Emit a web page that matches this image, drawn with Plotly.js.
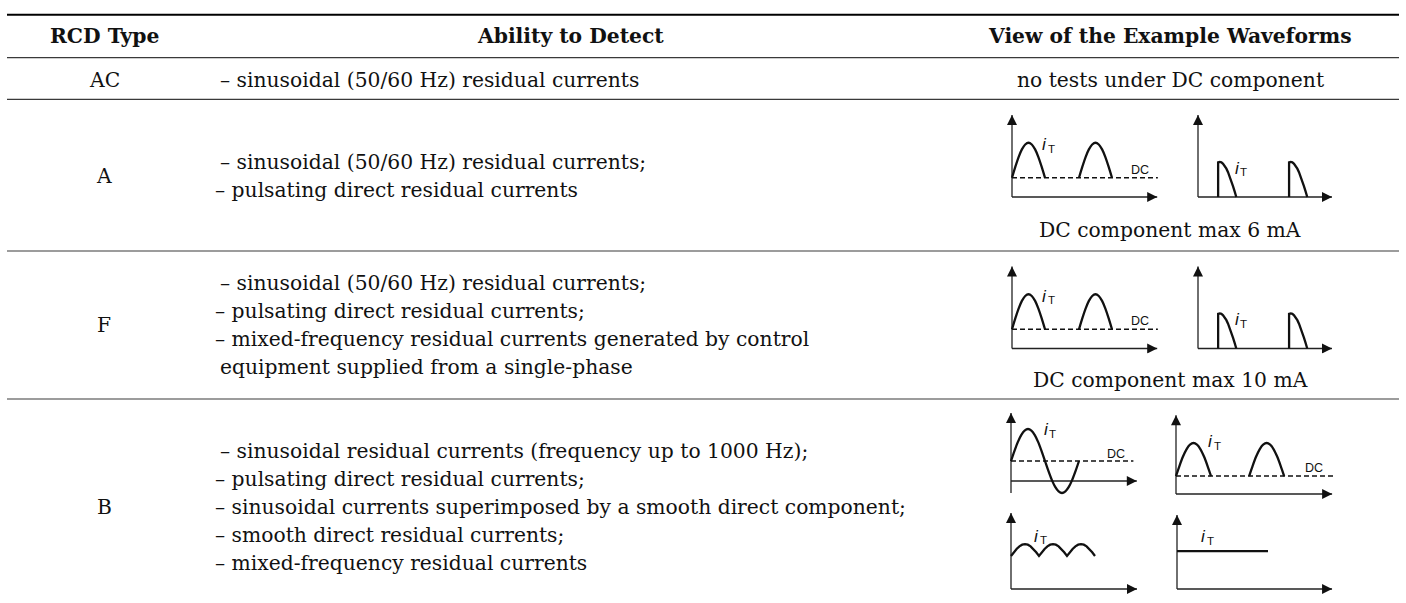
<!DOCTYPE html>
<html>
<head>
<meta charset="utf-8">
<script src="https://cdn.plot.ly/plotly-3.0.1.min.js"></script>
<style>
html,body{margin:0;padding:0;background:#ffffff;}
#chart{width:1406px;height:603px;}
</style>
</head>
<body>
<div id="chart"></div>
<script>
// ---------------- table content ----------------
const headers = ['RCD Type', 'Ability to Detect', 'View of the Example Waveforms'];
const rcdTypes = ['AC', 'A', 'F', 'B'];
const abilityAC = ['– sinusoidal (50/60 Hz) residual currents'];
const abilityA = ['– sinusoidal (50/60 Hz) residual currents;',
                  '– pulsating direct residual currents'];
const abilityF = ['– sinusoidal (50/60 Hz) residual currents;',
                  '– pulsating direct residual currents;',
                  '– mixed-frequency residual currents generated by control',
                  'equipment supplied from a single-phase'];
const abilityB = ['– sinusoidal residual currents (frequency up to 1000 Hz);',
                  '– pulsating direct residual currents;',
                  '– sinusoidal currents superimposed by a smooth direct component;',
                  '– smooth direct residual currents;',
                  '– mixed-frequency residual currents'];
const waveNotes = ['no tests under DC component', 'DC component max 6 mA', 'DC component max 10 mA'];
const currentSymbol = 'i';
const currentSubscript = 'T';
const dcLabel = 'DC';

// ---------------- waveform values (time: half period = 10, current: amplitude = 10) ----------------
const halfWaveT = [0, 1, 2, 3, 4, 5, 6, 7, 8, 9, 10];
const halfWaveI = [0, 3.1, 5.9, 8.1, 9.5, 10, 9.5, 8.1, 5.9, 3.1, 0];
const cutPulseT = [0, 0, 0.5, 1, 1.5, 2, 2.5, 3, 3.5, 4, 4.5, 5, 5.5];
const cutPulseI = [0, 9.9, 10, 9.9, 9.5, 8.9, 8.1, 7.1, 5.9, 4.5, 3.1, 1.6, 0];
const sineT = [0, 1, 2, 3, 4, 5, 6, 7, 8, 9, 10, 11, 12, 13, 14, 15, 16, 17, 18, 19, 20];
const sineI = [0, 3.1, 5.9, 8.1, 9.5, 10, 9.5, 8.1, 5.9, 3.1, 0, -3.1, -5.9, -8.1, -9.5, -10, -9.5, -8.1, -5.9, -3.1, 0];
const humpStartsAF = [0, 20.3];
const cutStartsAF = [6.1, 27.6];
const humpStartsB = [0, 20.9];
const rippleStarts = [0, 10, 20];
const dcLevelAF = 5.5;
const dcLevelB1 = 6.25;
const dcLevelB2 = 5.45;
const rippleBase = 10;
const rippleDepth = 0.36;
const smoothT = [0, 26];
const smoothI = [11.5, 11.5];

// ---------------- layout helpers ----------------
const W = 1406, H = 603;
const PX = x => x / W;
const PY = y => 1 - y / H;
const SERIF = 'DejaVu Serif';
const SANS = 'Liberation Sans';
const TXT = '#111111';
const FS = 20.3;

const annotations = [];
const shapes = [];
const traces = [];
const layout = {
  width: W, height: H,
  margin: {l: 0, r: 0, t: 0, b: 0, pad: 0},
  paper_bgcolor: '#ffffff', plot_bgcolor: 'rgba(0,0,0,0)',
  showlegend: false,
  annotations: annotations,
  shapes: shapes
};

function textAt(text, xpx, ypx, anchor, opts) {
  annotations.push(Object.assign({
    xref: 'paper', yref: 'paper', x: PX(xpx), y: PY(ypx),
    xanchor: anchor, yanchor: 'middle', align: anchor === 'left' ? 'left' : 'center',
    showarrow: false, text: text,
    font: {family: SERIF, size: FS, color: TXT}
  }, opts || {}));
}
function rule(ypx, width, color) {
  shapes.push({type: 'line', xref: 'paper', yref: 'paper',
    x0: PX(7), x1: PX(1399), y0: PY(ypx), y1: PY(ypx),
    line: {color: color, width: width}});
}

// rules
rule(14.7, 2, '#000000');
rule(57.7, 1.2, '#3a3a3a');
rule(99.3, 1.2, '#3a3a3a');
rule(251, 1.2, '#3a3a3a');
rule(399, 1.2, '#3a3a3a');

// header (bold)
const colCenters = [104, 570, 1170];
headers.forEach((h, i) => textAt(h, colCenters[i], 36, 'center',
  {font: {family: SERIF, size: FS, color: TXT, weight: 'bold'}}));

// rows
const rowCenters = [80, 176, 325, 507];
const lineGap = 28;
const abilities = [abilityAC, abilityA, abilityF, abilityB];
const lineLeft = [[218], [218, 213], [218, 213, 213, 218], [218, 213, 213, 213, 213]];
rcdTypes.forEach((t, r) => {
  textAt(t, colCenters[0], rowCenters[r], 'center');
  const lines = abilities[r];
  lines.forEach((ln, k) => {
    const y = rowCenters[r] + (k - (lines.length - 1) / 2) * lineGap;
    textAt(ln, lineLeft[r][k], y, 'left');
  });
});
const notePos = [80, 230, 380];
waveNotes.forEach((n, i) => textAt(n, colCenters[2], notePos[i], 'center'));

// ---------------- waveform panels ----------------
function pulses(T, I, starts, base) {
  const xs = [], ys = [];
  starts.forEach(s => {
    T.forEach((t, j) => { xs.push(t + s); ys.push(I[j] + base); });
    xs.push(null); ys.push(null);
  });
  return {x: xs, y: ys};
}
function ripple() {
  const xs = [], ys = [];
  rippleStarts.forEach((s, n) => {
    halfWaveT.forEach((t, j) => {
      if (n > 0 && j === 0) return;
      xs.push(t + s); ys.push(rippleBase + rippleDepth * halfWaveI[j]);
    });
  });
  return {x: xs, y: ys};
}

const panels = [
  {ox: 1012, oy: 197,   sx: 3.3, sy: 3.5, xEnd: 44,   yTop: 23.4, yBot: 0, kind: 'humps', starts: humpStartsAF, dc: dcLevelAF, dcEnd: 44.2, lab: [8.5, 15], dcLab: [38.8, 7.8]},
  {ox: 1198, oy: 197,   sx: 3.3, sy: 3.5, xEnd: 40.6, yTop: 23.4, yBot: 0, kind: 'cut', starts: cutStartsAF, lab: [10.6, 8.2]},
  {ox: 1012, oy: 348.5, sx: 3.3, sy: 3.5, xEnd: 44,   yTop: 23.4, yBot: 0, kind: 'humps', starts: humpStartsAF, dc: dcLevelAF, dcEnd: 44.2, lab: [8.5, 15], dcLab: [38.8, 7.8]},
  {ox: 1198, oy: 348.5, sx: 3.3, sy: 3.5, xEnd: 40.6, yTop: 23.4, yBot: 0, kind: 'cut', starts: cutStartsAF, lab: [10.6, 8.2]},
  {ox: 1011, oy: 481,   sx: 3.4, sy: 3.2, xEnd: 37,   yTop: 21.25, yBot: -3.75, kind: 'sine', dc: dcLevelB1, dcEnd: 36, lab: [9.1, 16], dcLab: [30.9, 8.3]},
  {ox: 1176, oy: 494,   sx: 3.5, sy: 3.3, xEnd: 44.6, yTop: 23.9, yBot: 0, kind: 'humps', starts: humpStartsB, dc: dcLevelB2, dcEnd: 45.1, lab: [8.6, 15.8], dcLab: [39.4, 7.8]},
  {ox: 1011, oy: 589,   sx: 2.8, sy: 3.3, xEnd: 45,   yTop: 23,   yBot: 0, kind: 'ripple', lab: [7.5, 16]},
  {ox: 1177, oy: 589,   sx: 3.5, sy: 3.3, xEnd: 44.3, yTop: 22.4, yBot: 0, kind: 'smooth', lab: [6.3, 15.8]}
];

const WAVE = {color: '#111111', width: 2.3};
const AXIS = {color: '#222222', width: 1.3};
panels.forEach((p, idx) => {
  const k = idx + 1;
  const xa = k === 1 ? 'xaxis' : 'xaxis' + k;
  const ya = k === 1 ? 'yaxis' : 'yaxis' + k;
  const xr = k === 1 ? 'x' : 'x' + k;
  const yr = k === 1 ? 'y' : 'y' + k;
  const padL = 8, padR = 10, padT = 10;
  const padB = Math.max(5, -p.yBot * p.sy + 5);
  const x0px = p.ox - padL, x1px = p.ox + p.xEnd * p.sx + padR;
  const yTopPx = p.oy - p.yTop * p.sy - padT;
  const yBotPx = Math.min(H, p.oy - p.yBot * p.sy + padB);
  const realPadB = yBotPx - p.oy;
  layout[xa] = {domain: [PX(x0px), PX(x1px)], range: [-padL / p.sx, (p.xEnd * p.sx + padR) / p.sx],
    visible: false, fixedrange: true, anchor: yr};
  layout[ya] = {domain: [PY(yBotPx), PY(yTopPx)], range: [-realPadB / p.sy, p.yTop + padT / p.sy],
    visible: false, fixedrange: true, anchor: xr};

  const add = (d, extra) => traces.push(Object.assign({
    type: 'scatter', mode: 'lines', x: d.x, y: d.y, xaxis: xr, yaxis: yr,
    hoverinfo: 'skip', showlegend: false, line: Object.assign({}, WAVE)
  }, extra || {}));

  // axes (lines with arrow heads)
  add({x: [0, p.xEnd, null, 0, 0], y: [0, 0, null, p.yBot, p.yTop]}, {line: AXIS, connectgaps: false});
  add({x: [p.xEnd, 0], y: [0, p.yTop]}, {mode: 'markers',
    marker: {symbol: ['arrow-right', 'arrow-up'], size: 10, color: '#111111', line: {width: 0}}});

  if (p.kind === 'humps') {
    add({x: [0, p.dcEnd], y: [p.dc, p.dc]}, {line: {color: '#111111', width: 1.6, dash: '5px,3px'}});
    add(pulses(halfWaveT, halfWaveI, p.starts, p.dc), {line: Object.assign({}, WAVE, {shape: 'spline', smoothing: 0.6})});
  } else if (p.kind === 'cut') {
    add(pulses(cutPulseT, cutPulseI, p.starts, 0));
  } else if (p.kind === 'sine') {
    add({x: [0, p.dcEnd], y: [p.dc, p.dc]}, {line: {color: '#111111', width: 1.6, dash: '5px,3px'}});
    add(pulses(sineT, sineI, [0], p.dc), {line: Object.assign({}, WAVE, {shape: 'spline', smoothing: 0.6})});
  } else if (p.kind === 'ripple') {
    add(ripple());
  } else if (p.kind === 'smooth') {
    add({x: smoothT, y: smoothI});
  }

  // labels: italic i with subscript T (two plain texts)
  annotations.push({xref: xr, yref: yr, x: p.lab[0], y: p.lab[1], xanchor: 'left', yanchor: 'middle',
    showarrow: false, text: currentSymbol,
    font: {family: SANS, size: 17, color: '#111111', style: 'italic'}});
  annotations.push({xref: xr, yref: yr, x: p.lab[0], y: p.lab[1], xanchor: 'left', yanchor: 'middle',
    xshift: 5.5, yshift: -4, showarrow: false, text: currentSubscript,
    font: {family: SANS, size: 11.5, color: '#111111'}});
  if (p.dcLab) {
    annotations.push({xref: xr, yref: yr, x: p.dcLab[0], y: p.dcLab[1], xanchor: 'center', yanchor: 'middle',
      showarrow: false, text: dcLabel, font: {family: SANS, size: 12.5, color: '#111111'}});
  }
});

Plotly.newPlot('chart', traces, layout, {staticPlot: true, displayModeBar: false});
</script>
</body>
</html>
